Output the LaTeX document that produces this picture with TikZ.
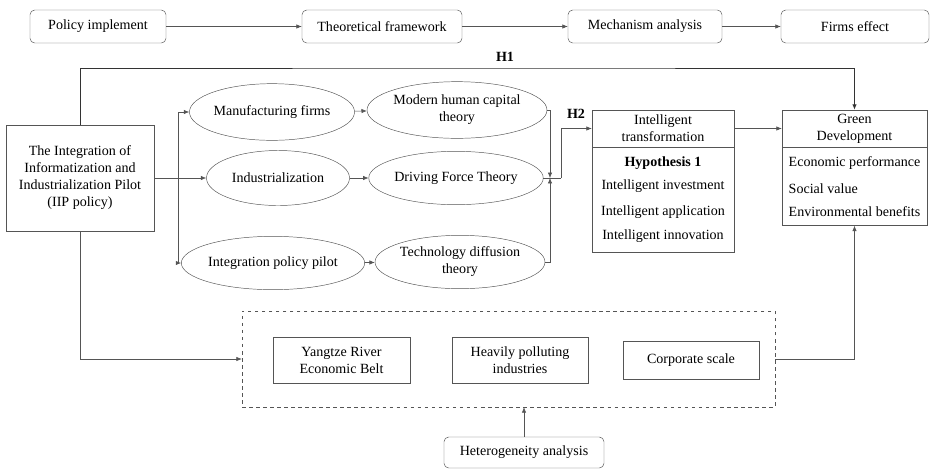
\documentclass[tikz,border=0pt]{standalone}
\usepackage{fontspec}
\setmainfont{Liberation Serif}
\usepackage{tikz}
\usetikzlibrary{arrows.meta, positioning, shapes.geometric}
\definecolor{edge}{RGB}{85,85,85}

\begin{document}
\begin{tikzpicture}[
  font=\fontsize{12}{14.5}\selectfont,
  stage/.style={draw=edge, rounded corners=4pt, align=center, minimum height=0.99cm, inner sep=2pt},
  box/.style={draw=edge, align=center, inner sep=2pt},
  ell/.style={draw=edge, ellipse, align=center, inner sep=0pt, minimum height=1.7cm},
  arr/.style={-{Latex[length=1.6mm, width=1.3mm]}, edge, line width=0.5pt}]
  \useasboundingbox (0,0) rectangle (27.9,-14.1);
  % research stages
  \node[stage, minimum width=4.08cm] (policy) at (2.94,-0.795) {Policy implement};
  \node[stage, minimum width=4.8cm] (theory) at (11.46,-0.795) {Theoretical framework};
  \node[stage, minimum width=4.62cm] (mech) at (19.35,-0.795) {Mechanism analysis};
  \node[stage, minimum width=4.44cm] (firms) at (25.65,-0.795) {Firms effect};
  \draw[arr] (policy) -- (theory);
  \draw[arr] (theory) -- (mech);
  \draw[arr] (mech) -- (firms);
  % policy and channels
  \node[box, minimum width=4.44cm, minimum height=3.18cm] (iip) at (2.4,-5.34)
    {The Integration of\\Informatization and\\Industrialization Pilot\\(IIP policy)};
  \node[ell, minimum width=4.29cm] (manu) at (8.16,-3.36) {Manufacturing firms};
  \node[ell, minimum width=4.29cm, minimum height=1.65cm] (ind) at (8.34,-5.34) {Industrialization};
  \node[ell, minimum width=4.29cm, minimum height=1.6cm] (pilot) at (8.19,-7.89) {Integration policy pilot};
  \node[ell, minimum width=5.0cm] (modern) at (13.71,-3.3) {Modern human capital\\theory};
  \node[ell, minimum width=4.44cm, minimum height=1.6cm] (driving) at (13.68,-5.34) {Driving Force Theory};
  \node[ell, minimum width=4.5cm, minimum height=1.6cm] (tech) at (13.8,-7.86) {Technology diffusion\\theory};
  \coordinate (fork) at (5.34,-5.34);
  \coordinate (join) at (16.5,-5.34);
  \coordinate (bend) at (16.83,-5.34);
  \draw[arr] (iip.east) -- (ind.west);
  \draw[arr] (fork) |- (manu.west);
  \draw[arr] (fork) |- (pilot.west);
  \draw[arr] (manu) -- (modern);
  \draw[arr] (ind) -- (driving);
  \draw[arr] (pilot) -- (tech);
  \draw[arr] (modern.east) -| (join);
  \draw[arr] (tech.east) -| (join);
  \draw[edge, line width=0.5pt] (driving.east) -- (bend);
  % outcomes
  \node[box, minimum width=4.26cm, minimum height=1.11cm] (itHead) at (19.89,-3.855) {Intelligent\\transformation};
  \node[box, minimum width=4.26cm, minimum height=3.15cm, below=0pt of itHead] (itBody)
    {\textbf{Hypothesis 1}\\[5pt]Intelligent investment\\[8pt]Intelligent application\\[6pt]Intelligent innovation};
  \node[box, minimum width=4.35cm, minimum height=1.11cm] (greenHead) at (25.635,-3.855) {Green\\Development};
  \node[box, minimum width=4.35cm, minimum height=2.34cm, below=0pt of greenHead, align=left] (greenBody)
    {Economic performance\\[8.5pt]Social value\\[5pt]Environmental benefits};
  \draw[arr] (bend) |- (itHead.west);
  \draw[arr] (itHead) -- (greenHead);
  \draw[arr, line width=0.8pt, black!80] (iip.north) |- (15,-2.04) -| (greenHead.north);
  \node[font=\fontsize{12}{14.5}\selectfont\bfseries] (h1) at (15.15,-1.71) {H1};
  \node[font=\fontsize{12}{14.5}\selectfont\bfseries] (h2) at (17.28,-3.42) {H2};
  % heterogeneity
  \node[draw=edge, dashed, minimum width=15.99cm, minimum height=2.88cm] (hetBox) at (15.255,-10.77) {};
  \node[box, minimum width=4.11cm, minimum height=1.38cm] (yangtze) at (10.245,-10.8) {Yangtze River\\Economic Belt};
  \node[box, minimum width=4.08cm, minimum height=1.38cm] (heavy) at (15.6,-10.8) {Heavily polluting\\industries};
  \node[box, minimum width=4.08cm, minimum height=1.14cm] (scale) at (20.73,-10.8) {Corporate scale};
  \node[stage, minimum width=4.8cm, minimum height=0.93cm] (hetero) at (15.72,-13.575) {Heterogeneity analysis};
  \draw[arr] (iip.south) |- (hetBox.west);
  \draw[arr] (hetBox.east) -| (greenBody.south);
  \draw[arr] (hetero) -- (hetBox.south -| hetero);
\end{tikzpicture}
\end{document}
